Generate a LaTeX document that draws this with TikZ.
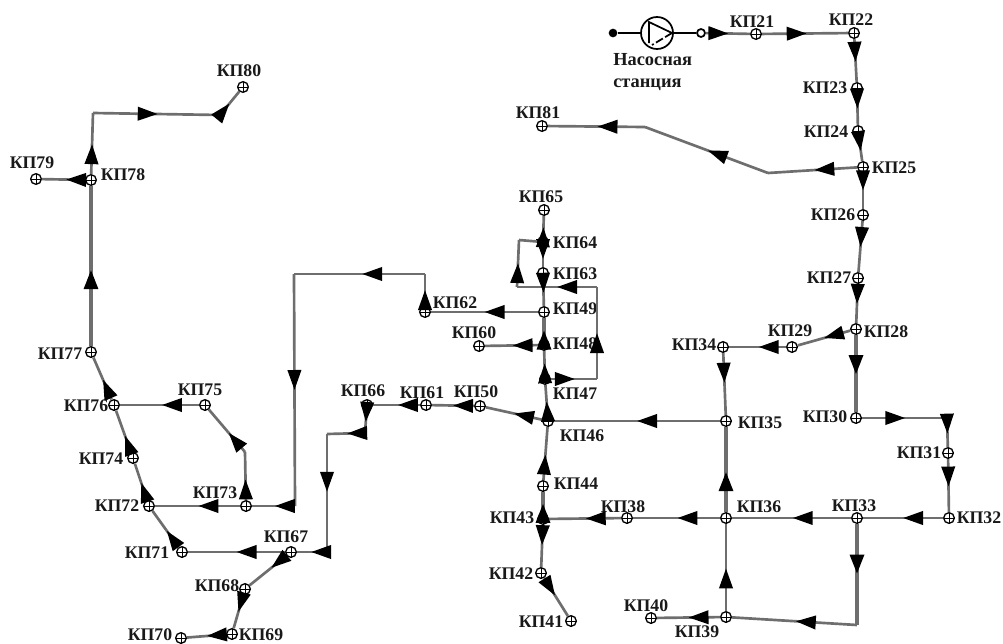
\documentclass[tikz,border=0pt]{standalone}
\usepackage{fontspec}
\setmainfont{Liberation Serif}
\usetikzlibrary{arrows.meta,decorations.markings}
\definecolor{pipegray}{HTML}{6E6E6E}
\tikzset{
  kp/.style={circle,draw=black,fill=white,line width=1pt,inner sep=0pt,minimum size=8pt,
    path picture={\draw[line width=0.7pt] (path picture bounding box.north) -- (path picture bounding box.south)
      (path picture bounding box.west) -- (path picture bounding box.east);}},
  kplabel/.style={inner sep=0pt,font=\fontsize{13.3}{15}\selectfont\bfseries,text=black!90},
  pipe/.style={draw=pipegray,line width=2pt,line join=miter},
  bigpipe/.style={draw=pipegray,line width=3.6pt,line join=miter},
  flow/.style={postaction={decorate},decoration={markings,
    mark=at position #1 with {\arrow{Triangle[length=15pt,width=10pt,color=black]}}}},
  pumpline/.style={draw=black,line width=1.3pt}
}
\begin{document}
\begin{tikzpicture}[x=0.75pt,y=-0.75pt]
    \useasboundingbox (0,0) rectangle (1003,643);
    \foreach \n/\x/\y/\lx/\ly in {
      21/756/34/752/22, 22/854/33/851/20, 23/857/88/825/88, 24/858/131/826/132,
      25/863/167/894/168, 26/863/215/833/215, 27/858/278/829/278, 28/856/329/886/332,
      29/792/347/790/331, 30/856/418/825/417, 31/948/453/919/453, 32/949/518/979/518,
      33/857/518/854/506, 34/723/347/694/345, 35/726/421/760/423, 36/726/518/759/507,
      38/627/518/623/507, 39/726/617/697/632, 40/651/618/646/606, 41/571/621/541/622,
      42/541/573/511/574, 43/543/519/512/518, 44/543/486/576/484, 46/548/421/582/436,
      47/545/379/575/394, 48/544/345/575/344, 49/544/312/575/309, 50/480/406/476/392,
      60/479/346/474/333, 61/426/405/422/393, 62/425/312/455/303, 63/543/273/575/274,
      64/543/242/575/243, 65/544/210/541/197, 66/367/405/363/391, 67/291/552/286/537,
      68/245/589/217/586, 69/232/634/261/635, 70/181/638/150/635, 71/182/552/147/553,
      72/149/506/117/506, 73/246/506/215/493, 74/133/458/101/459, 75/205/405/200/390,
      76/114/405/86/406, 77/91/352/60/354, 78/91/180/123/175, 79/36/179/32/163,
      80/243/87/239/71, 81/542/126/538/113} {
      \node[kp] (kp\n) at (\x,\y) {};
      \node[kplabel] (lab\n) at (\lx,\ly) {КП\n};
    }

    \node[circle,fill=black,inner sep=0pt,minimum size=6.5pt] (source) at (613,33) {};
    \node[circle,pumpline,minimum size=24pt,inner sep=0pt] (pump) at (657,33) {};
    \node[circle,pumpline,fill=white,minimum size=6pt,inner sep=0pt] (outlet) at (701,33) {};
    \node[kplabel,align=left,anchor=west,font=\fontsize{13.8}{16.5}\selectfont\bfseries] (station) at (613,72) {Насосная\\станция};
    \draw[pumpline] (source) -- (pump);
    \draw[pumpline] (pump) -- (outlet);
    \draw[pumpline] (649,43) -- (649,22) -- (672,33);
    \draw[pumpline,dashed,dash pattern=on 6pt off 2pt] (672,33) -- (652,45);

    \coordinate (c30) at (947,418);
    \coordinate (c33) at (857,625);
    \coordinate (c25a) at (768,173);
    \coordinate (c25b) at (645,127);
    \coordinate (c78a) at (93,113);
    \coordinate (c78b) at (220,115);
    \coordinate (c62a) at (425,274);
    \coordinate (c62b) at (294,274);
    \coordinate (c62c) at (295,506);
    \coordinate (c66a) at (365,433);
    \coordinate (c66b) at (327,434);
    \coordinate (c66c) at (327,552);
    \coordinate (c73) at (245,452);
    \coordinate (c47a) at (597,379);
    \coordinate (c47b) at (597,287);
    \coordinate (c47c) at (517,287);
    \coordinate (c47d) at (519,240);

    \foreach \a/\b/\p in {
      outlet/kp21/.51, kp21/kp22/.52, kp22/kp23/.53, kp23/kp24/.47, kp24/kp25/.58,
      kp25/kp26/.48, kp26/kp27/.51, kp27/kp28/.51, kp28/kp29/.5, kp29/kp34/.48,
      kp34/kp35/.48, kp30/c30/.51, c30/kp31/.54, kp31/kp32/.52, kp32/kp33/.5,
      kp33/kp36/.49, kp36/kp38/.49, kp38/kp43/.49, c33/kp39/.49, kp39/kp40/.5,
      kp39/kp36/.49, kp35/kp46/.5, kp46/kp50/.5, kp50/kp61/.5, kp61/kp66/.47,
      kp66/c66a/.5, c66a/c66b/.47, c66b/c66c/.49, c66c/kp67/.53, kp67/kp71/.5,
      kp67/kp68/.41, kp68/kp69/.51, kp69/kp70/.49, kp71/kp72/.45, kp72/kp74/.48,
      kp74/kp76/.4, kp76/kp77/.47, kp78/kp79/.44, kp78/c78a/.49, c78a/c78b/.51,
      c78b/kp80/.49, kp25/c25a/.48, c25a/c25b/.49, c25b/kp81/.49, kp62/c62a/.5,
      c62a/c62b/.48, c62b/c62c/.5, c62c/kp73/.47, kp73/kp72/.49, kp73/c73/.43,
      c73/kp75/.45, kp75/kp76/.47, kp49/kp62/.5, kp48/kp60/.48, kp47/kp48/.44,
      kp47/c47a/.52, c47a/c47b/.5, c47b/c47c/.5, c47c/c47d/.51, kp64/kp65/.44,
      kp64/kp63/.58, kp63/kp49/.51, kp46/kp47/.45, kp44/kp46/.48, kp43/kp42/.48,
      kp42/kp41/.46} {
      \draw[pipe,flow=\p] (\a) -- (\b);
    }
    \foreach \a/\b/\p in {
      kp28/kp30/.52, kp33/c33/.5, kp36/kp35/.48, kp77/kp78/.48, kp48/kp49/.45, kp43/kp44/.48} {
      \draw[bigpipe,flow=\p] (\a) -- (\b);
    }
    \draw[pipe] (c47d) -- (kp64);
\end{tikzpicture}
\end{document}
